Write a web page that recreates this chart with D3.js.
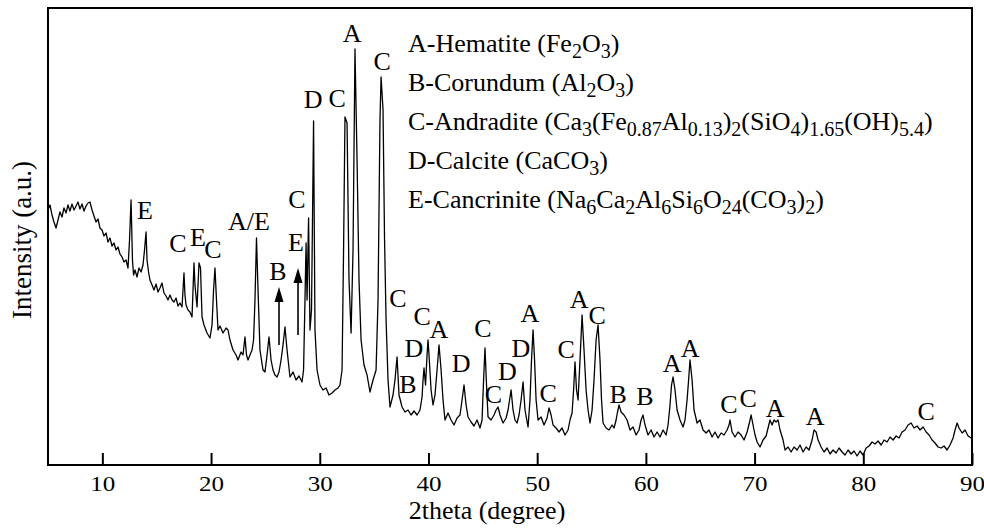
<!DOCTYPE html>
<html><head><meta charset="utf-8">
<script src="https://cdn.jsdelivr.net/npm/d3@7"></script>
<style>
body{margin:0;background:#fff}
svg{display:block}
svg text{font-family:"Liberation Serif","DejaVu Serif",serif;fill:#000}
</style>
</head><body>
<svg id="chart" width="984" height="528"></svg>
<script>
// ---- data: XRD scan [2theta (deg), intensity (a.u.)]
const scan = [[5.00,255],[5.18,260],[5.37,250],[5.55,243],[5.74,237],[5.92,245],[6.10,253],[6.29,248],[6.47,257],[6.66,252],[6.84,260],[7.02,254],[7.21,261],[7.39,255],[7.58,259],[7.76,263],[7.94,256],[8.13,261],[8.31,254],[8.50,259],[8.68,262],[8.86,263],[9.05,255],[9.23,249],[9.42,243],[9.60,246],[9.78,237],[9.97,235],[10.15,229],[10.34,232],[10.52,223],[10.70,227],[10.89,219],[11.07,222],[11.26,215],[11.44,218],[11.62,211],[11.81,208],[11.99,203],[12.18,205],[12.36,197],[12.50,225],[12.64,265],[12.77,205],[12.87,190],[13.00,195],[13.19,188],[13.37,197],[13.56,193],[13.74,200],[13.88,215],[14.02,233],[14.11,205],[14.25,193],[14.38,185],[14.57,180],[14.75,175],[14.94,181],[15.12,173],[15.30,177],[15.49,182],[15.67,172],[15.86,169],[16.04,165],[16.22,170],[16.41,165],[16.59,163],[16.78,167],[16.96,159],[17.14,162],[17.33,158],[17.42,175],[17.51,192],[17.60,170],[17.70,160],[17.88,155],[18.06,153],[18.25,148],[18.34,175],[18.43,202],[18.52,180],[18.71,158],[18.80,180],[18.89,202],[19.03,197],[19.17,148],[19.35,140],[19.63,132],[19.90,127],[20.09,140],[20.23,175],[20.36,197],[20.50,165],[20.64,135],[20.82,139],[21.10,132],[21.38,137],[21.56,135],[21.74,125],[22.02,115],[22.30,110],[22.48,105],[22.76,113],[22.94,110],[23.12,128],[23.26,110],[23.40,105],[23.58,110],[23.77,115],[23.91,125],[24.04,165],[24.18,227],[24.32,175],[24.50,115],[24.78,95],[24.96,93],[25.15,110],[25.33,128],[25.52,105],[25.70,95],[25.88,90],[26.07,88],[26.25,93],[26.44,105],[26.62,120],[26.80,138],[26.99,115],[27.26,88],[27.54,93],[27.82,85],[28.09,89],[28.37,83],[28.51,95],[28.64,165],[28.74,222],[28.83,165],[28.97,247],[29.10,135],[29.24,155],[29.43,344],[29.56,135],[29.75,95],[30.02,80],[30.30,75],[30.58,77],[30.85,70],[31.13,72],[31.40,75],[31.68,77],[31.86,80],[32.05,95],[32.19,215],[32.32,348],[32.51,342],[32.69,185],[32.88,132],[33.06,215],[33.24,416],[33.43,305],[33.61,185],[33.80,125],[34.07,100],[34.35,90],[34.62,73],[34.90,85],[35.18,95],[35.36,165],[35.54,345],[35.64,388],[35.82,355],[35.96,225],[36.10,145],[36.28,85],[36.46,58],[36.74,70],[36.92,85],[37.11,108],[37.29,70],[37.57,58],[37.84,53],[38.12,55],[38.40,50],[38.67,54],[38.95,50],[39.22,55],[39.41,68],[39.50,85],[39.59,97],[39.73,80],[39.87,110],[39.96,125],[40.05,110],[40.24,75],[40.42,60],[40.60,70],[40.79,95],[40.97,120],[41.16,95],[41.34,65],[41.52,45],[41.80,52],[42.08,45],[42.35,40],[42.63,47],[42.90,50],[43.09,65],[43.27,80],[43.46,60],[43.64,48],[43.92,43],[44.19,39],[44.47,45],[44.74,37],[44.93,45],[45.07,85],[45.20,117],[45.34,80],[45.48,48],[45.76,45],[46.03,50],[46.22,55],[46.40,58],[46.58,50],[46.86,42],[47.14,47],[47.32,55],[47.46,65],[47.60,75],[47.78,55],[47.96,45],[48.15,42],[48.33,50],[48.52,65],[48.70,83],[48.88,55],[49.16,38],[49.34,65],[49.48,105],[49.62,135],[49.76,105],[49.90,65],[50.08,45],[50.36,48],[50.63,40],[50.91,47],[51.09,57],[51.28,50],[51.46,40],[51.74,37],[52.01,33],[52.29,37],[52.56,30],[52.84,35],[53.02,45],[53.21,52],[53.35,75],[53.48,103],[53.62,75],[53.76,65],[53.94,105],[54.13,150],[54.31,115],[54.50,75],[54.68,55],[54.86,42],[55.05,55],[55.23,85],[55.42,125],[55.60,140],[55.78,105],[55.92,65],[56.06,42],[56.34,37],[56.61,35],[56.89,40],[57.07,37],[57.26,45],[57.39,53],[57.53,60],[57.72,53],[57.99,50],[58.27,45],[58.54,35],[58.82,38],[59.10,30],[59.37,35],[59.56,45],[59.74,50],[59.92,40],[60.20,30],[60.48,35],[60.75,28],[61.03,33],[61.30,28],[61.58,35],[61.86,30],[62.04,40],[62.22,60],[62.36,80],[62.50,88],[62.68,75],[62.87,55],[63.14,45],[63.42,38],[63.60,45],[63.79,65],[63.93,85],[64.06,105],[64.25,85],[64.43,55],[64.71,42],[64.98,45],[65.26,35],[65.54,32],[65.81,35],[66.09,28],[66.36,33],[66.64,27],[66.92,32],[67.19,30],[67.47,35],[67.65,40],[67.74,45],[67.93,33],[68.20,28],[68.48,33],[68.76,30],[69.03,25],[69.31,33],[69.54,43],[69.68,50],[69.86,40],[70.04,30],[70.23,23],[70.50,18],[70.78,25],[71.06,29],[71.24,37],[71.42,45],[71.61,40],[71.79,45],[71.98,43],[72.16,45],[72.34,35],[72.62,25],[72.80,15],[73.08,18],[73.36,13],[73.63,18],[73.91,15],[74.18,20],[74.46,13],[74.74,18],[75.01,15],[75.29,25],[75.47,35],[75.66,33],[75.84,25],[76.12,18],[76.39,13],[76.67,17],[76.94,11],[77.22,15],[77.50,12],[77.77,17],[78.05,13],[78.32,10],[78.60,15],[78.88,11],[79.15,14],[79.43,9],[79.70,14],[79.98,10],[80.26,17],[80.53,19],[80.81,23],[81.08,21],[81.36,24],[81.64,20],[81.91,25],[82.19,23],[82.46,28],[82.74,25],[83.02,29],[83.29,27],[83.57,33],[83.84,35],[84.12,40],[84.40,42],[84.67,37],[84.95,39],[85.22,35],[85.50,38],[85.78,33],[86.05,30],[86.33,25],[86.60,22],[86.88,18],[87.16,17],[87.43,19],[87.71,15],[87.98,20],[88.26,27],[88.44,35],[88.63,42],[88.81,37],[89.09,32],[89.36,35],[89.64,29],[89.92,27]];

const twoTheta = scan.map(d => d[0]);
const intensity = scan.map(d => d[1]);

const xTicks = [10, 20, 30, 40, 50, 60, 70, 80, 90];
const xDomain = [5, 90];
const yDomain = [0, 457];

// peak labels: [letter, 2theta, intensity at label baseline]
const peakLabels = [
  ["E",13.92,246],["C",16.96,213],["E",18.80,219],["C",20.18,207],["A/E",23.49,235],
  ["B",26.16,185],["C",27.91,257],["E",27.82,214],["D",29.38,357],["C",31.59,358],
  ["A",32.97,423],["C",35.73,395],["C",37.20,158],["C",39.41,140],["A",40.97,127],
  ["D",38.67,108],["B",38.12,72],["D",43.00,93],["C",45.02,128],["C",45.98,62],
  ["D",47.25,85],["D",48.50,108],["A",49.34,143],["C",51.00,63],["C",52.66,107],
  ["A",53.85,157],["C",55.51,141],["B",57.44,62],["B",59.92,60],["A",62.41,93],
  ["A",64.06,108],["C",67.65,52],["C",69.40,58],["A",71.88,48],["A",75.56,40],
  ["C",85.78,45]
];

// arrows: [2theta, bottom intensity, tip intensity]
const arrows = [[26.25,120,178],[28.00,130,197]];

// legend rows: segments [text, isSubscript]
const legendRows = [
  [["A-Hematite (Fe",0],["2",1],["O",0],["3",1],[")",0]],
  [["B-Corundum (Al",0],["2",1],["O",0],["3",1],[")",0]],
  [["C-Andradite (Ca",0],["3",1],["(Fe",0],["0.87",1],["Al",0],["0.13",1],[")",0],["2",1],["(SiO",0],["4",1],[")",0],["1.65",1],["(OH)",0],["5.4",1],[")",0]],
  [["D-Calcite (CaCO",0],["3",1],[")",0]],
  [["E-Cancrinite (Na",0],["6",1],["Ca",0],["2",1],["Al",0],["6",1],["Si",0],["6",1],["O",0],["24",1],["(CO",0],["3",1],[")",0],["2",1],[")",0]]
];

const xTitle = "2theta (degree)";
const yTitle = "Intensity (a.u.)";

// ---- drawing
const FONT = '"Liberation Serif","DejaVu Serif",serif';
const svg = d3.select("#chart");
const L = 48, R = 972, T = 8, B = 465;
const x = d3.scaleLinear().domain(xDomain).range([L, R]);
const y = d3.scaleLinear().domain(yDomain).range([B, T]);

svg.append("rect").attr("width",984).attr("height",528).attr("fill","#fff");

// curve
const line = d3.line().x((d,i) => x(twoTheta[i])).y((d,i) => y(intensity[i]));
svg.append("path").datum(intensity).attr("d", line)
  .attr("fill","none").attr("stroke","#000").attr("stroke-width",1.3).attr("stroke-linejoin","round");

// x axis with inward ticks
const ax = svg.append("g").attr("transform",`translate(0,${B})`)
  .call(d3.axisBottom(x).tickValues(xTicks).tickFormat(d3.format("d")).tickSizeInner(-12).tickSizeOuter(0).tickPadding(11));
ax.attr("font-family", FONT);
ax.select(".domain").remove();
ax.selectAll(".tick line").attr("stroke","#000").attr("stroke-width",2);
ax.selectAll(".tick text").attr("font-size",21).style("font-family",FONT)
  .attr("textLength",25).attr("lengthAdjust","spacingAndGlyphs").attr("fill","#000");

// frame
svg.append("rect").attr("x",L).attr("y",T).attr("width",R-L).attr("height",B-T)
  .attr("fill","none").attr("stroke","#000").attr("stroke-width",2);

// peak labels
svg.append("g").selectAll("text").data(peakLabels).join("text")
  .attr("x", d => x(d[1])).attr("y", d => y(d[2])).style("font-family",FONT)
  .attr("text-anchor","middle").attr("font-size",26).text(d => d[0]);

// arrows
const ag = svg.append("g");
arrows.forEach(a => {
  const ax0 = x(a[0]), yb = y(a[1]), yt = y(a[2]);
  ag.append("line").attr("x1",ax0).attr("x2",ax0).attr("y1",yb).attr("y2",yt+10)
    .attr("stroke","#000").attr("stroke-width",1.6);
  ag.append("path").attr("d",`M${ax0},${yt} L${ax0-4.5},${yt+15} L${ax0+4.5},${yt+15} Z`).attr("fill","#000");
});

// legend
const lg = svg.append("g");
const legendX = 408, legendY0 = 52, legendDY = 39;
legendRows.forEach((row, i) => {
  const t = lg.append("text").attr("x",legendX).attr("y",legendY0 + i*legendDY)
    .attr("font-size",26).style("font-family",FONT);
  let down = false;
  row.forEach(seg => {
    const sp = t.append("tspan").text(seg[0]);
    if (seg[1] && !down) { sp.attr("font-size",20).attr("dy",6); down = true; }
    else if (!seg[1] && down) { sp.attr("dy",-6); down = false; }
    else if (seg[1]) { sp.attr("font-size",20); }
  });
});

// axis titles
svg.append("text").attr("x",487).attr("y",519).attr("text-anchor","middle").attr("font-size",26).style("font-family",FONT).text(xTitle);
svg.append("text").attr("transform","translate(31,240) rotate(-90)").attr("text-anchor","middle").attr("font-size",27).style("font-family",FONT).text(yTitle);
</script>
</body></html>
